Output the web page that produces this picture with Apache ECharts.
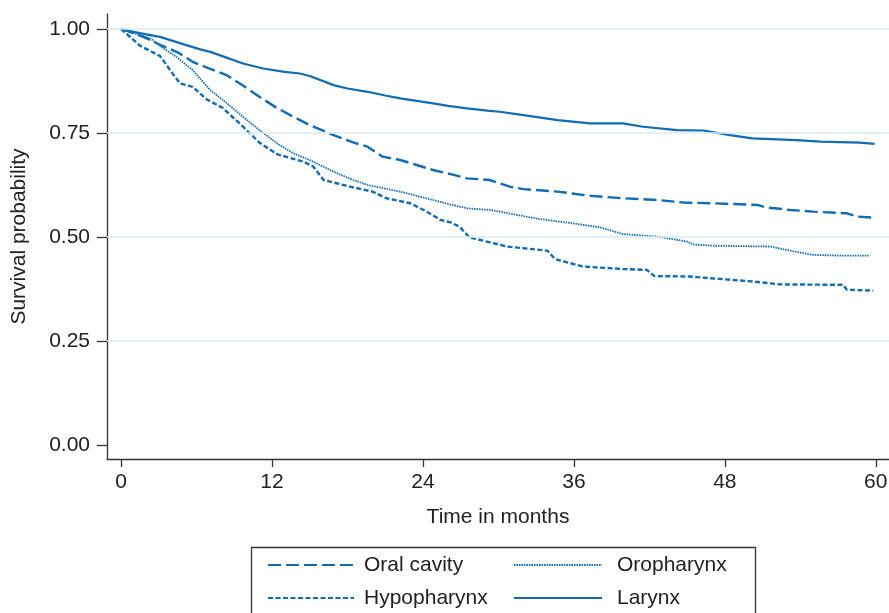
<!DOCTYPE html>
<html>
<head>
<meta charset="utf-8">
<script src="https://cdn.jsdelivr.net/npm/echarts@6/dist/echarts.min.js"></script>
<style>html,body{margin:0;padding:0;background:#fff}#c{width:889px;height:613px}</style>
</head>
<body>
<div id="c"></div>
<script>
const xTicks = [0, 12, 24, 36, 48, 60];
const yTicks = [0, 0.25, 0.5, 0.75, 1.0];
const gridValues = [0.25, 0.5, 0.75, 1.0];
const seriesNames = ['Oral cavity', 'Oropharynx', 'Hypopharynx', 'Larynx'];

const oralCavity = [[0,1],[1,0.99],[2,0.978],[3.1,0.962],[4.5,0.944],[5.7,0.921],[7,0.905],[8.4,0.889],[9.7,0.864],[11,0.837],[12.4,0.81],[13.7,0.789],[15,0.769],[16.9,0.745],[18.5,0.727],[19.6,0.717],[20.8,0.693],[22.2,0.685],[23.5,0.673],[24.8,0.661],[26.2,0.651],[27.5,0.641],[29.3,0.637],[30.9,0.621],[32,0.615],[34.7,0.609],[37.3,0.599],[39.9,0.593],[42.6,0.589],[44.7,0.583],[48,0.58],[50.6,0.577],[51.3,0.571],[53.2,0.565],[55,0.561],[57.7,0.557],[58.5,0.549],[60,0.546]];

const oropharynx = [[0,1],[1,0.99],[2.3,0.978],[3.3,0.955],[4.4,0.933],[5.7,0.901],[7.1,0.853],[8.4,0.822],[9.7,0.789],[11,0.757],[12.4,0.725],[13.7,0.701],[15,0.685],[16.9,0.657],[18.2,0.64],[19.6,0.625],[22.2,0.609],[24.8,0.589],[26.2,0.578],[27.5,0.569],[29.3,0.565],[30.1,0.561],[32,0.55],[33.3,0.543],[35.9,0.533],[38.1,0.523],[39.9,0.507],[42.6,0.501],[45,0.489],[45.5,0.482],[47.1,0.479],[51.6,0.477],[53.2,0.467],[55,0.457],[57.4,0.455],[59.5,0.455]];

const hypopharynx = [[0,1],[1.5,0.96],[3.1,0.935],[4.1,0.893],[4.7,0.869],[5.7,0.861],[6.8,0.831],[8.1,0.81],[9.7,0.765],[11,0.727],[12.4,0.699],[14.5,0.681],[15.3,0.669],[16.1,0.637],[18.2,0.621],[20,0.609],[21.1,0.593],[23,0.581],[24.3,0.561],[25.4,0.541],[26.2,0.535],[26.9,0.525],[27.7,0.499],[28.8,0.491],[30.7,0.477],[32,0.473],[33.9,0.467],[34.5,0.447],[36.7,0.429],[39.9,0.423],[41.8,0.421],[42.4,0.406],[45.2,0.405],[46.8,0.401],[50.2,0.393],[52.4,0.386],[57.4,0.385],[57.7,0.373],[59.8,0.371]];

const larynx = [[0,1],[1,0.993],[2,0.987],[3.1,0.981],[5,0.963],[6.3,0.951],[7.1,0.945],[8.5,0.93],[9.7,0.917],[11.3,0.905],[13,0.897],[14.2,0.893],[15,0.887],[16.9,0.865],[18,0.857],[19.6,0.849],[21,0.84],[22.2,0.833],[24.8,0.821],[26,0.815],[27.5,0.809],[29.3,0.803],[30.1,0.801],[32,0.793],[34.7,0.781],[37.3,0.773],[39.9,0.773],[41.5,0.765],[44.2,0.757],[46.3,0.756],[48.4,0.745],[50.2,0.737],[53.7,0.733],[55.6,0.729],[58.7,0.727],[59.9,0.724]];

const BLUE = '#0f6cb5';
const FONT = 'Liberation Sans, Arial, sans-serif';
const FS = 21;

const chart = echarts.init(document.getElementById('c'), null, {renderer: 'canvas'});

function mkSeries(name, data, type, width) {
  return {
    name: name, type: 'line', data: data, symbol: 'none', showSymbol: false,
    z: 3, silent: true, animation: false,
    lineStyle: {color: BLUE, width: width, type: type, cap: 'butt'},
    itemStyle: {color: BLUE}
  };
}

const legendCommon = {
  orient: 'vertical', padding: 0, itemHeight: 14, itemGap: 11,
  selectedMode: false,
  itemStyle: {opacity: 0},
  top: 554
};

chart.setOption({
  animation: false,
  backgroundColor: '#fff',
  grid: {left: 107, right: 0, top: 14, bottom: 154, containLabel: false, outerBoundsMode: 'none'},
  xAxis: {
    type: 'value', min: -1.113, max: 61.05,
    name: 'Time in months', nameLocation: 'middle', nameGap: 48,
    nameTextStyle: {fontFamily: FONT, fontSize: FS, color: '#222'},
    axisLine: {show: true, onZero: false, lineStyle: {color: '#333', width: 1.3}},
    axisTick: {show: true, length: 8, customValues: xTicks, lineStyle: {color: '#333', width: 1.3}},
    axisLabel: {customValues: xTicks, margin: 13, fontFamily: FONT, fontSize: FS, color: '#222'},
    splitLine: {show: false}
  },
  yAxis: {
    type: 'value', min: -0.0337, max: 1.036,
    name: 'Survival probability', nameLocation: 'middle', nameGap: 77, nameRotate: 90,
    nameTextStyle: {fontFamily: FONT, fontSize: FS, color: '#222'},
    axisLine: {show: true, onZero: false, lineStyle: {color: '#333', width: 1.3}},
    axisTick: {show: true, length: 10, customValues: yTicks, lineStyle: {color: '#333', width: 1.3}},
    axisLabel: {customValues: yTicks, margin: 17, fontFamily: FONT, fontSize: FS, color: '#222',
      formatter: v => Number(v).toFixed(2)},
    splitLine: {show: false}
  },
  legend: [
    Object.assign({}, legendCommon, {left: 267, itemWidth: 86,
      textStyle: {fontFamily: FONT, fontSize: FS, color: '#222', lineHeight: 22, padding: [0,0,0,5]},
      data: ['Oral cavity', 'Hypopharynx']}),
    Object.assign({}, legendCommon, {left: 513, itemWidth: 88,
      textStyle: {fontFamily: FONT, fontSize: FS, color: '#222', lineHeight: 22, padding: [0,0,0,10]},
      data: ['Oropharynx', 'Larynx']})
  ],
  graphic: [{
    type: 'rect', left: 249, top: 545, silent: true,
    shape: {width: 504, height: 90},
    style: {fill: 'none', stroke: '#333', lineWidth: 1.3}
  }],
  series: [
    {
      name: 'grid', type: 'line', data: [], silent: true, z: 1,
      markLine: {
        silent: true, symbol: ['none', 'none'], label: {show: false},
        lineStyle: {color: '#dcebf0', width: 1.5, type: 'solid'},
        data: gridValues.map(v => ({yAxis: v}))
      }
    },
    mkSeries(seriesNames[0], oralCavity, [13, 5], 2.4),
    mkSeries(seriesNames[1], oropharynx, [1.5, 1], 1.8),
    mkSeries(seriesNames[2], hypopharynx, [5, 2.5], 2.4),
    mkSeries(seriesNames[3], larynx, 'solid', 2.2)
  ]
});
</script>
</body>
</html>
